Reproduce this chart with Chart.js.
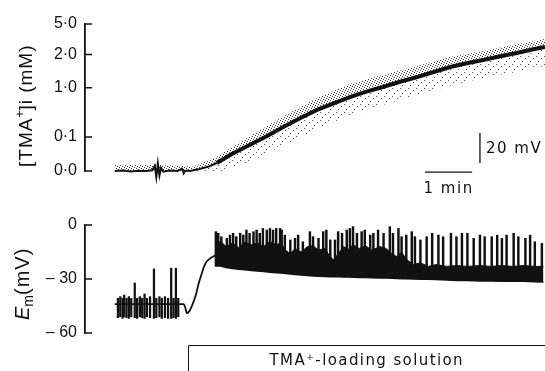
<!DOCTYPE html>
<html>
<head>
<meta charset="utf-8">
<script src="https://cdn.jsdelivr.net/npm/chart.js@4.4.0/dist/chart.umd.min.js"></script>
<style>
  html, body { margin: 0; padding: 0; background: #fff; }
  #wrap { position: relative; width: 545px; height: 371px; overflow: hidden; }
  #topChart { position: absolute; left: 0; top: 0; }
  #bottomChart { position: absolute; left: 0; top: 195px; }
</style>
</head>
<body>
<div id="wrap">
  <canvas id="topChart" width="545" height="195"></canvas>
  <canvas id="bottomChart" width="545" height="176"></canvas>
</div>
<script>
// Tiempo en s desde el inicio del registro
const timeMin = -38;
const timeMax = 549;
const tickLen = 9; // marcas del eje, en s

// [TMA+]i: señal del electrodo en mV sobre la línea base
const tmaTickValues = [0, 22.7, 55.5, 77.7, 98];
const tmaTickLabels = ['0·0', '0·1', '1·0', '2·0', '5·0'];

const tmaRestTime  = [0, 10, 20, 30, 40, 48, 51, 53, 55, 57, 59, 62, 70, 80, 86, 88, 90, 96, 108, 120, 130];
const tmaRestLevel = [0, 0.3, -0.3, 0.2, 0, 0.5, 3.5, -4, 5, -3, 2, -0.5, 0.3, 0, 1.5, -1.5, 0.3, 0, 1.3, 3, 5.3];
const tmaRiseTime  = [130, 150, 172, 195, 215, 237, 258, 280, 300, 320, 342, 364, 386, 407, 428, 449, 470, 492, 513, 531, 549];
const tmaRiseLevel = [5.3, 11.5, 17.3, 23.5, 29.3, 35.3, 40.7, 45.3, 49.3, 52.8, 56, 59.5, 62.7, 66, 69.3, 71.8, 74, 76.5, 78.7, 80.8, 82.7];

// nube de puntos alrededor de la traza
const dotTime  = [0, 60, 100, 130, 172, 215, 258, 300, 342, 386, 428, 470, 513, 549];
const dotUpper = [4, 4, 3, 9.5, 23, 36.5, 48.5, 58, 64, 70, 76, 80, 84.5, 88];
const dotCore  = [0, 0, 0.5, 5.3, 17.3, 29.3, 40.7, 49.3, 56, 62.7, 69.3, 74, 78.7, 82.7];
const dotLower = [-4, -5, -3, -1, 6, 17, 28, 37, 44, 51, 57, 62, 66, 70];

// barras de escala
const voltBar = { time: 466, from: 5.3, size: 20, label: '20 mV' };
const timeBar = { from: 396, size: 60, level: -0.7, label: '1 min' };

// Em (mV)
const emTickValues = [-60, -30, 0];
const emTickLabels = ['– 60', '– 30', '0'];

const emTime  = [0, 88, 90, 92, 95, 98, 101, 104, 107, 111, 114, 117, 121, 125, 129];
const emValue = [-44, -44, -46, -49, -48, -45.4, -42, -38, -32.5, -26.9, -23, -20.4, -18.8, -17.6, -16.7];

const preSpikeTime = [4, 7, 10, 12, 15, 18, 21, 25.5, 28.5, 32, 35, 38, 41, 45, 50, 53, 57, 60, 64, 68, 72, 75, 78, 81];
const preSpikeLow  = [-51.5, -51, -51.9, -51, -51.5, -51.9, -51, -51.5, -51.9, -51, -51.5, -51.9, -51, -51.5, -51.9, -51.5, -51, -51.9, -51.5, -51.9, -51.9, -51.5, -51.9, -51];
const preSpikeHigh = [-40.7, -39.8, -40.7, -38.9, -40.7, -39.8, -40.7, -32.2, -40.7, -39.8, -40.7, -38.3, -40.7, -39.8, -24.4, -40.7, -39.8, -40.7, -39.8, -40.7, -24, -40.7, -24, -40.7];

const emMassTime = [129, 135, 142, 150, 158, 166, 174, 182, 190, 198, 206, 212, 218, 224, 230, 238, 246, 253, 260, 268,
  274, 279, 285, 292, 298, 304, 312, 320, 328, 338, 346, 354, 360, 366, 372, 381, 390, 400, 410, 424,
  436, 450, 466, 480, 494, 508, 522, 536, 547];
const emMassTop = [-11, -9, -12, -10, -12.5, -9.5, -11, -10, -12, -9, -11, -10, -14, -16, -13, -15, -12, -11.5, -14, -13,
  -17, -19.4, -16, -12, -13.5, -11, -13, -11.5, -14, -12, -13, -16, -17.6, -15, -19, -22, -21, -23, -22, -23,
  -22.5, -23, -22.5, -23, -22.5, -23, -22.5, -23, -23];
const emBase = [-22, -22.8, -23.6, -24.2, -24.6, -24.9, -25.3, -25.6, -25.9, -26.2, -26.5, -26.7, -27, -27.2, -27.5, -27.8, -28.1, -28.3, -28.5, -28.6,
  -28.7, -28.7, -28.8, -28.9, -28.9, -29, -29.1, -29.2, -29.3, -29.4, -29.5, -29.6, -29.7, -29.8, -29.8, -30, -30.1, -30.2, -30.3, -30.6,
  -30.8, -30.9, -31.1, -31.1, -31.2, -31.1, -31.3, -31.5, -31.7];

const burstFoot = -23;
const burstTime = [129, 132, 136, 143, 147, 151, 155, 160, 164, 168, 172, 177, 181, 185, 189, 194, 198, 202, 206, 211,
  213, 217, 224, 230, 234, 240, 249, 253, 260, 266, 270, 275, 281, 285, 290, 296, 300, 304, 309, 315,
  319, 326, 330, 336, 343, 351, 355, 362, 366, 372, 379,
  383, 390, 398, 405, 413, 419, 429, 436, 443, 450, 458, 466, 472, 481, 488, 494, 500, 509, 515, 524, 530, 536, 545];
const burstPeak = [-3.7, -4.6, -6.5, -7.4, -5.6, -4.6, -6.5, -4.6, -5.6, -2.8, -4.6, -3.7, -2.8, -4.6, -1.9, -2.8, -1.9, -2.8, -1.9, -1.9,
  -2.8, -5.6, -8.3, -7.4, -5.6, -9.3, -3.7, -6.5, -7.4, -3.7, -2.8, -8.3, -8.3, -3.7, -4.6, -2.8, -1.9, -0.9, -4.6, -3.7,
  -2.8, -5.6, -4.6, -2.8, -4.6, -0.9, -4.6, -1.9, -6.5, -5.6, -3.7,
  -6.5, -8.3, -6.5, -4.6, -5.6, -6.5, -4.6, -6.5, -4.6, -4.6, -7.4, -5.6, -6.5, -6.5, -5.6, -7.4, -5.6, -4.6, -6.5, -7.4, -5.6, -9.3, -10.2];

const solutionStart = 93;
const solutionLabel = 'TMA⁺-loading solution';

const INK = '#111';
const TICK_FONT = { family: 'Liberation Sans', size: 16 };

const pts = (xs, ys) => xs.map((x, i) => ({ x, y: ys[i] }));

// corchete del eje como una línea más: baja por el borde y sale en cada marca
function bracketPoints(tickValues) {
  const out = [];
  [...tickValues].sort((a, b) => b - a).forEach(v => {
    out.push({ x: timeMin, y: v }, { x: timeMin + tickLen, y: v }, { x: timeMin, y: v });
  });
  return out;
}

function bracketDataset(tickValues) {
  return { data: bracketPoints(tickValues), borderColor: INK, borderWidth: 1.4, clip: false, order: -1 };
}

// textura punteada para la nube
function stipple(ctx, size, dots, color) {
  const c = document.createElement('canvas');
  c.width = c.height = size;
  const g = c.getContext('2d');
  g.fillStyle = color;
  dots.forEach(([x, y]) => g.fillRect(x, y, 1, 1));
  return ctx.createPattern(c, 'repeat');
}

function drawVertical(ctx, x, y, parts) {
  ctx.save();
  ctx.translate(x, y);
  ctx.rotate(-Math.PI / 2);
  ctx.fillStyle = INK;
  ctx.textBaseline = 'alphabetic';
  ctx.textAlign = 'left';
  let cx = 0;
  parts.forEach(p => {
    ctx.font = p.font;
    ctx.letterSpacing = p.spacing || '0px';
    ctx.fillText(p.text, cx, p.dy || 0);
    cx += ctx.measureText(p.text).width;
  });
  ctx.restore();
}

function drawScaleBars(chart) {
  const { ctx, scales: { x, y } } = chart;
  const vx = x.getPixelForValue(voltBar.time);
  const vy0 = y.getPixelForValue(voltBar.from);
  const vy1 = y.getPixelForValue(voltBar.from + voltBar.size);
  const tx0 = x.getPixelForValue(timeBar.from);
  const tx1 = x.getPixelForValue(timeBar.from + timeBar.size);
  const ty = y.getPixelForValue(timeBar.level);
  ctx.save();
  ctx.strokeStyle = INK;
  ctx.fillStyle = INK;
  ctx.lineWidth = 1.3;
  ctx.beginPath();
  ctx.moveTo(vx, vy0); ctx.lineTo(vx, vy1);
  ctx.moveTo(tx0, ty); ctx.lineTo(tx1, ty);
  ctx.stroke();
  ctx.font = '15px "DejaVu Sans"';
  ctx.letterSpacing = '1.5px';
  ctx.textAlign = 'left';
  ctx.textBaseline = 'middle';
  ctx.fillText(voltBar.label, vx + 6, (vy0 + vy1) / 2 + 1);
  ctx.textAlign = 'center';
  ctx.textBaseline = 'alphabetic';
  ctx.fillText(timeBar.label, (tx0 + tx1) / 2, ty + 21);
  ctx.restore();
}

function drawSolutionBox(chart) {
  const { ctx, scales: { x } } = chart;
  const left = Math.round(x.getPixelForValue(solutionStart)) + 0.5;
  const top = 150.5;
  ctx.save();
  ctx.strokeStyle = INK;
  ctx.lineWidth = 1;
  ctx.beginPath();
  ctx.moveTo(left, chart.height);
  ctx.lineTo(left, top);
  ctx.lineTo(chart.width, top);
  ctx.stroke();
  ctx.fillStyle = INK;
  ctx.font = '15px "DejaVu Sans"';
  ctx.letterSpacing = '1.4px';
  ctx.textAlign = 'center';
  ctx.textBaseline = 'alphabetic';
  ctx.fillText(solutionLabel, (left + chart.width) / 2, 170);
  ctx.restore();
}

function decorations(id, title, titleX, titleY, extra) {
  return {
    id,
    afterDraw(chart) {
      drawVertical(chart.ctx, titleX, titleY, title);
      extra(chart);
    }
  };
}

function yAxis(min, max, values, labels) {
  return {
    type: 'linear', min, max,
    grid: { display: false, drawTicks: false },
    border: { display: true, color: INK, width: 1.3 },
    afterFit: s => { s.width = 85; },
    afterBuildTicks: s => { s.ticks = values.map(v => ({ value: v })); },
    ticks: {
      padding: 8, color: INK, font: TICK_FONT,
      callback: v => labels[values.indexOf(v)]
    }
  };
}

const xAxis = () => ({ type: 'linear', min: timeMin, max: timeMax, display: false, offset: false });

const common = () => ({
  responsive: false,
  animation: false,
  devicePixelRatio: 1,
  plugins: { legend: { display: false }, tooltip: { enabled: false } },
  elements: { point: { radius: 0 }, line: { tension: 0 } }
});

const topCtx = document.getElementById('topChart').getContext('2d');
const denseDots = stipple(topCtx, 5, [[0, 0], [2, 1], [4, 2], [1, 3], [3, 4]], '#3a3a3a');
const sparseDots = stipple(topCtx, 8, [[0, 0], [5, 2], [2, 5]], '#555');

new Chart(topCtx, {
  type: 'line',
  data: {
    datasets: [
      bracketDataset(tmaTickValues),
      { data: pts(tmaRiseTime, tmaRiseLevel), borderColor: INK, borderWidth: 4, order: 0, clip: false },
      { data: pts(tmaRestTime, tmaRestLevel), borderColor: INK, borderWidth: 2, order: 0, clip: false },
      { data: pts(dotTime, dotCore), borderWidth: 0, borderColor: 'rgba(0,0,0,0)', order: 3, clip: false },
      { data: pts(dotTime, dotUpper), borderWidth: 0, borderColor: 'rgba(0,0,0,0)', fill: 3, backgroundColor: denseDots, order: 2, clip: false },
      { data: pts(dotTime, dotLower), borderWidth: 0, borderColor: 'rgba(0,0,0,0)', fill: 3, backgroundColor: sparseDots, order: 2, clip: false }
    ]
  },
  options: {
    ...common(),
    layout: { padding: { top: 24, bottom: 24, left: 0, right: 0 } },
    scales: { x: xAxis(), y: yAxis(0, 98, tmaTickValues, tmaTickLabels) }
  },
  plugins: [decorations('decorTop', [
    { text: '[TMA', font: '19px "Liberation Sans"', spacing: '1px' },
    { text: '+', font: '12px "Liberation Sans"', dy: -8 },
    { text: ']i (mM)', font: '19px "Liberation Sans"', spacing: '1px' }
  ], 32, 167, drawScaleBars)]
});

new Chart(document.getElementById('bottomChart'), {
  type: 'line',
  data: {
    datasets: [
      bracketDataset(emTickValues),
      { data: pts(emTime, emValue), borderColor: INK, borderWidth: 1.8, cubicInterpolationMode: 'monotone' },
      { data: pts(emMassTime, emBase), borderColor: INK, borderWidth: 1.5 },
      { data: pts(emMassTime, emMassTop), borderColor: INK, borderWidth: 1, fill: '-1', backgroundColor: INK },
      { type: 'bar', grouped: false, barThickness: 1.6, backgroundColor: INK, borderWidth: 0,
        data: preSpikeTime.map((t, i) => ({ x: t, y: [preSpikeLow[i], preSpikeHigh[i]] })) },
      { type: 'bar', grouped: false, barThickness: 1.8, backgroundColor: INK, borderWidth: 0,
        data: burstTime.map((t, i) => ({ x: t, y: [burstFoot, burstPeak[i]] })) }
    ]
  },
  options: {
    ...common(),
    layout: { padding: { top: 30, bottom: 38, left: 0, right: 0 } },
    scales: { x: xAxis(), y: yAxis(-60, 0, emTickValues, emTickLabels) }
  },
  plugins: [decorations('decorBottom', [
    { text: 'E', font: 'italic 20px "Liberation Sans"' },
    { text: 'm', font: '14px "Liberation Sans"', dy: 4 },
    { text: '(mV)', font: '20px "Liberation Sans"', spacing: '1px' }
  ], 29, 125, drawSolutionBox)]
});
</script>
</body>
</html>
